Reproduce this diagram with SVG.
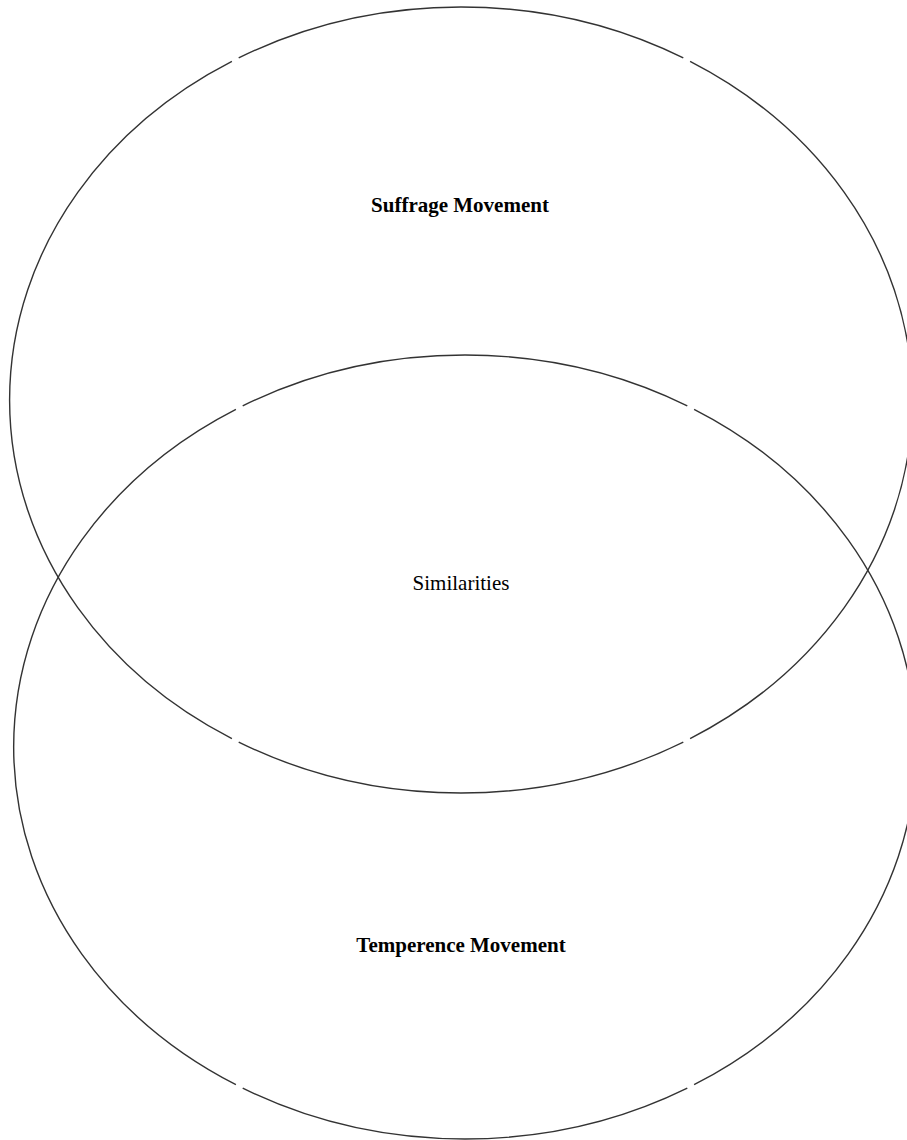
<svg xmlns="http://www.w3.org/2000/svg" width="907" height="1140" viewBox="0 0 907 1140">
<style>
.ring{fill:none;stroke:#333;stroke-width:1.4}
.lbl{font-family:"Liberation Serif","Times New Roman",serif;font-size:21px;fill:#000;text-anchor:middle}
.b{font-weight:bold}
</style>
<rect width="907" height="1140" fill="#fff"/>
<g id="suffrage">
<path class="ring" d="M683.3 57.9 A451.5 393 0 0 0 238.7 57.9 M231.9 61.4 A451.5 393 0 0 0 231.9 738.6 M238.7 742.1 A451.5 393 0 0 0 683.3 742.1 M690.1 738.6 A451.5 393 0 0 0 690.1 61.4"/>
<text class="lbl b" x="460" y="212">Suffrage Movement</text>
</g>
<g id="temperence">
<path class="ring" d="M687.3 405.8 A451.5 392 0 0 0 242.7 405.8 M235.9 409.3 A451.5 392 0 0 0 235.9 1084.7 M242.7 1088.2 A451.5 392 0 0 0 687.3 1088.2 M694.1 1084.7 A451.5 392 0 0 0 694.1 409.3"/>
<text class="lbl b" x="461" y="952">Temperence Movement</text>
</g>
<g id="similarities">
<text class="lbl" x="461" y="590">Similarities</text>
</g>
</svg>
